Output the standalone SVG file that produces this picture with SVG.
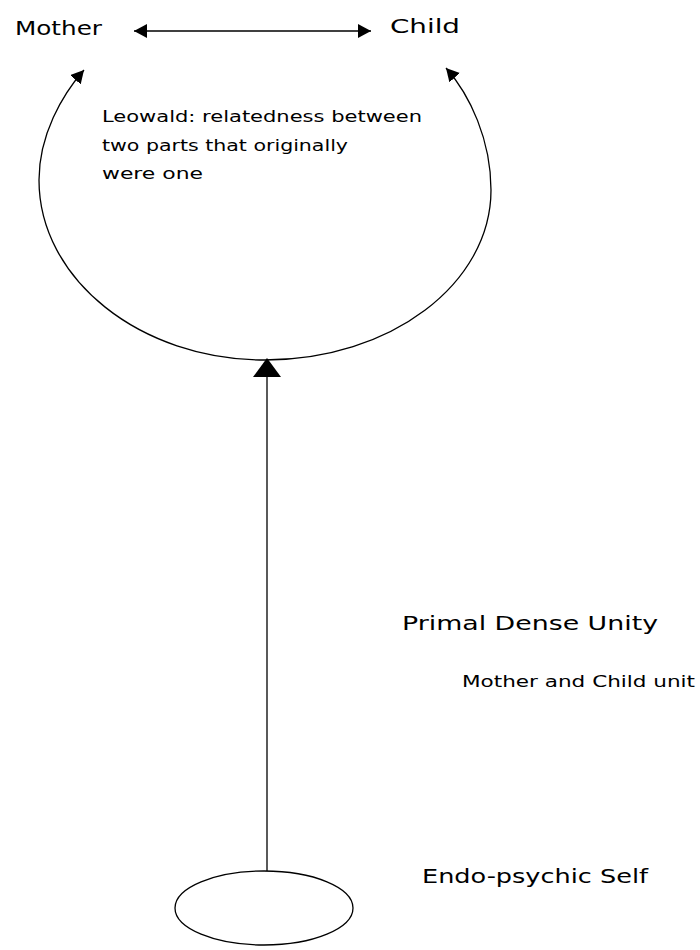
<svg xmlns="http://www.w3.org/2000/svg" width="700" height="950" viewBox="0 0 700 950">
<defs>
<marker id="ah" markerUnits="userSpaceOnUse" markerWidth="16" markerHeight="16" refX="13" refY="7" orient="auto-start-reverse">
<path d="M0,0 L13,7 L0,14 z" fill="#000"/>
</marker>
</defs>
<style>
.t{font-family:"DejaVu Sans","Liberation Sans",sans-serif;fill:#000}
.ln{fill:none;stroke:#000;stroke-width:1.3}
</style>
<rect width="700" height="950" fill="#fff"/>
<g id="mother"><text class="t" x="15" y="35" font-size="19" textLength="87" lengthAdjust="spacingAndGlyphs">Mother</text></g>
<g id="child"><text class="t" x="390" y="33" font-size="19" textLength="70" lengthAdjust="spacingAndGlyphs">Child</text></g>
<g id="leowald">
<text class="t" x="102" y="122" font-size="16" textLength="320" lengthAdjust="spacingAndGlyphs">Leowald: relatedness between</text>
<text class="t" x="102" y="151" font-size="16" textLength="246" lengthAdjust="spacingAndGlyphs">two parts that originally</text>
<text class="t" x="102" y="179" font-size="16" textLength="101" lengthAdjust="spacingAndGlyphs">were one</text>
</g>
<g id="primal">
<text class="t" x="402" y="630" font-size="20" textLength="256" lengthAdjust="spacingAndGlyphs">Primal Dense Unity</text>
<text class="t" x="462" y="687" font-size="15" textLength="233" lengthAdjust="spacingAndGlyphs">Mother and Child unit</text>
</g>
<g id="endo-label"><text class="t" x="422" y="883" font-size="20" textLength="226" lengthAdjust="spacingAndGlyphs">Endo-psychic Self</text></g>
<g id="self"><ellipse cx="264" cy="908" rx="89" ry="37" class="ln"/></g>
<g id="connectors">
<line x1="134" y1="31" x2="371" y2="31" class="ln" marker-start="url(#ah)" marker-end="url(#ah)"/>
<path d="M84,70 C62,95 39,135 39,180 C39,279 140,360 265,360 C390,360 491,284 491,190 C491,140 470,95 446,68" class="ln" marker-start="url(#ah)" marker-end="url(#ah)"/>
<line x1="267" y1="871" x2="267" y2="376" class="ln"/>
<path d="M267,358 L281,377 L253,377 z" fill="#000"/>
</g>
</svg>
